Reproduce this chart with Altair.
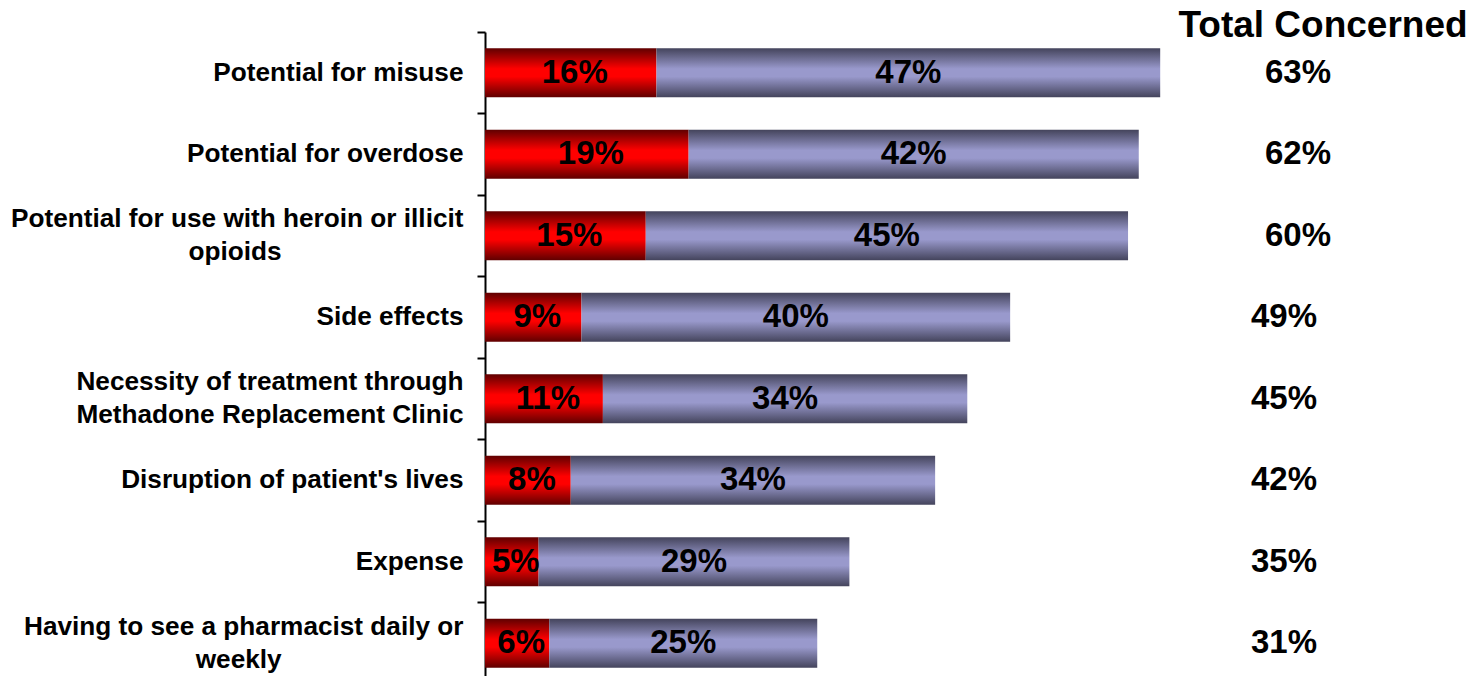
import altair as alt
import pandas as pd

categories = [
    "Potential for misuse",
    "Potential for overdose",
    "Potential for use with heroin or illicit|opioids",
    "Side effects",
    "Necessity of treatment through|Methadone Replacement Clinic",
    "Disruption of patient's lives",
    "Expense",
    "Having to see a pharmacist daily or|weekly",
]
very_concerned = [16, 19, 15, 9, 11, 8, 5, 6]
somewhat_concerned = [47, 42, 45, 40, 34, 34, 29, 25]
total_concerned = [63, 62, 60, 49, 45, 42, 35, 31]
header = ["Total Concerned"]

df = pd.DataFrame({
    "cat": categories,
    "red": very_concerned,
    "purple": somewhat_concerned,
    "total": total_concerned,
    "idx": list(range(len(categories))),
})

FONT = "Liberation Sans"
# centre a short second line under the first one (right-aligned labels)
pad = "\u00a0" * 25 + "\u200b"
l1 = "split(datum.label,'|')[0]"
l2 = "split(datum.label,'|')[1]"
label_expr = (
    "indexof(datum.label,'|')>=0 ? "
    f"[{l1}, length({l2}) < length({l1}) / 2 ? {l2} + '{pad}' : {l2}] : datum.label"
)

yenc = alt.Y(
    "cat:N",
    sort=categories,
    scale=alt.Scale(range=[0, 652], paddingInner=0, paddingOuter=0),
    axis=alt.Axis(
        title=None,
        labelExpr=label_expr,
        labelFont=FONT,
        labelFontSize=26.2,
        labelFontWeight="bold",
        labelColor="black",
        labelLineHeight=33,
        labelPadding=14,
        labelLimit=0,
        labelOffset={"condition": {"test": "indexof(datum.label,'|')>=0", "value": -16.5}, "value": 0},
        tickSize=8,
        tickWidth=2,
        tickColor="black",
        domainColor="black",
        domainWidth=2,
        bandPosition=0,
        grid=False,
    ),
)
xscale = alt.Scale(domain=[0, 92], nice=False, zero=True)

red_grad = {
    "gradient": "linear", "x1": 0, "y1": 0, "x2": 0, "y2": 1,
    "stops": [
        {"offset": 0, "color": "#600000"},
        {"offset": 0.42, "color": "#ff0000"},
        {"offset": 0.58, "color": "#ff0000"},
        {"offset": 1, "color": "#600000"},
    ],
}
purple_grad = {
    "gradient": "linear", "x1": 0, "y1": 0, "x2": 0, "y2": 1,
    "stops": [
        {"offset": 0, "color": "#44445c"},
        {"offset": 0.42, "color": "#9999cc"},
        {"offset": 0.58, "color": "#9999cc"},
        {"offset": 1, "color": "#44445c"},
    ],
}

base = alt.Chart(df).transform_calculate(
    zero="0",
    end="datum.red + datum.purple",
    rmid="datum.red / 2",
    pmid="datum.red + datum.purple / 2",
    rlab="datum.red + '%'",
    plab="datum.purple + '%'",
    tlab="datum.total + '%'",
)

red_bar = base.mark_bar(height={"band": 0.6}, fill=red_grad).encode(
    y=yenc,
    x=alt.X("zero:Q", scale=xscale, axis=None),
    x2="red:Q",
)
purple_bar = base.mark_bar(height={"band": 0.6}, fill=purple_grad).encode(
    y=yenc,
    x=alt.X("red:Q", scale=xscale, axis=None),
    x2="end:Q",
)
txt_props = dict(font=FONT, fontSize=33, fontWeight="bold", color="black", baseline="middle", align="center")
red_txt = base.mark_text(**txt_props, dx=4).encode(
    y=yenc, x=alt.X("rmid:Q", scale=xscale, axis=None), text="rlab:N"
)
purple_txt = base.mark_text(**txt_props).encode(
    y=yenc, x=alt.X("pmid:Q", scale=xscale, axis=None), text="plab:N"
)
tot_props = dict(font=FONT, fontSize=33, fontWeight="bold", color="black", baseline="middle", align="center")
tot_a = base.mark_text(**tot_props).encode(
    y=yenc, x=alt.value(813), text="tlab:N"
).transform_filter("datum.idx < 3")
tot_b = base.mark_text(**tot_props).encode(
    y=yenc, x=alt.value(799), text="tlab:N"
).transform_filter("datum.idx >= 3")

head = alt.Chart(pd.DataFrame({"h": header})).mark_text(
    font=FONT, fontSize=37, fontWeight="bold", color="black", align="center", baseline="alphabetic"
).encode(x=alt.value(838), y=alt.value(5), text="h:N")

chart = alt.layer(red_bar, purple_bar, red_txt, purple_txt, tot_a, tot_b, head).properties(
    width=986,
    height=644,
    autosize=alt.AutoSizeParams(type="none"),
    padding={"left": 477, "top": 24, "right": 0, "bottom": 0},
    background="white",
).configure_view(stroke=None)

chart.save("out.html", embed_options={"renderer": "svg", "actions": False})
